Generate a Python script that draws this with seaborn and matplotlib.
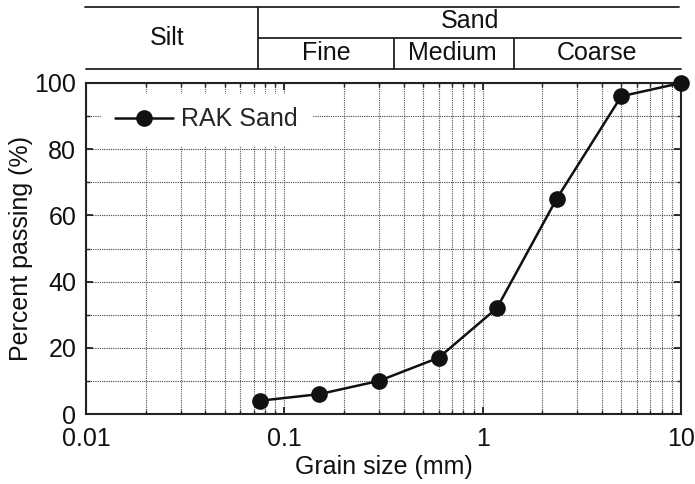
import matplotlib
matplotlib.use("Agg")
import matplotlib.pyplot as plt
from matplotlib.lines import Line2D
from matplotlib.ticker import LogLocator, FixedLocator, NullFormatter, FuncFormatter
import seaborn as sns
import pandas as pd

# Sieve analysis results
grain_size_mm = [0.075, 0.15, 0.3, 0.6, 1.18, 2.36, 5.0, 10.0]
percent_passing = [4, 6, 10, 17, 32, 65, 96, 100]
series_name = "RAK Sand"

x_tick_values = [0.01, 0.1, 1, 10]
x_tick_labels = ["0.01", "0.1", "1", "10"]
y_tick_values = [0, 20, 40, 60, 80, 100]

classes_top = ["Silt", "Sand"]
classes_sand = ["Fine", "Medium", "Coarse"]

sns.set_theme(style="ticks")
plt.rcParams["font.family"] = ["Liberation Sans", "DejaVu Sans"]

df = pd.DataFrame({"size": grain_size_mm, "passing": percent_passing,
                   "sample": series_name})

W, H = 695, 484
fig = plt.figure(figsize=(W / 100, H / 100), dpi=100)

def fx(px):
    return px / W

def fy(py):
    return 1 - py / H

L, R, T, B = 86, 681, 83, 414
ax = fig.add_axes([fx(L), fy(B), fx(R) - fx(L), fy(T) - fy(B)])

sns.lineplot(data=df, x="size", y="passing", hue="sample",
             palette=["#111111"], marker="o", markersize=12,
             markeredgewidth=0, linewidth=1.8, ax=ax, zorder=5,
             clip_on=False)

ax.set_xscale("log")
ax.set_xlim(0.01, 10)
ax.set_ylim(0, 100)

ax.xaxis.set_major_locator(FixedLocator(x_tick_values))
ax.xaxis.set_major_formatter(FuncFormatter(
    lambda v, p: x_tick_labels[x_tick_values.index(v)] if v in x_tick_values else ""))
ax.xaxis.set_minor_locator(LogLocator(base=10, subs=range(2, 10)))
ax.xaxis.set_minor_formatter(NullFormatter())
ax.yaxis.set_major_locator(FixedLocator(y_tick_values))
ax.yaxis.set_minor_locator(FixedLocator(range(10, 100, 20)))

ax.grid(True, which="both", axis="x", linestyle=(0, (1, 1)), color="#555555", linewidth=0.8)
ax.grid(True, which="both", axis="y", linestyle=(0, (1, 1)), color="#444444", linewidth=0.8)
ax.set_axisbelow(True)

ax.tick_params(which="major", direction="in", length=5, width=1.2,
               top=True, right=True, labelsize=18, colors="#111111")
ax.tick_params(axis="y", which="major", pad=7)
ax.tick_params(axis="x", which="major", pad=9)
ax.tick_params(which="minor", direction="in", length=3, width=1.0,
               top=True, right=True)
for lbl in ax.get_yticklabels():
    lbl.set_verticalalignment("center_baseline")
for s in ax.spines.values():
    s.set_linewidth(1.5)
    s.set_color("#222222")

ax.set_xlabel("Grain size (mm)", fontsize=18, labelpad=3, color="#111111")
ax.set_ylabel("Percent passing (%)", fontsize=18, labelpad=1, color="#111111")

leg = ax.legend(loc="upper left", bbox_to_anchor=(0.026, 0.968), frameon=True,
                fontsize=18, handlelength=2.3, handletextpad=0.35,
                borderpad=0.55, borderaxespad=0.0)
leg.get_frame().set_facecolor("white")
leg.get_frame().set_edgecolor("white")
leg.get_frame().set_alpha(1)
leg.get_frame().set_boxstyle("square", pad=0)
leg.set_zorder(6)

# Soil classification band above the plot
lw = 1.3
col = "#222222"
def hline(y, x0, x1):
    fig.add_artist(Line2D([fx(x0), fx(x1)], [fy(y), fy(y)], color=col, lw=lw))
def vline(x, y0, y1):
    fig.add_artist(Line2D([fx(x), fx(x)], [fy(y0), fy(y1)], color=col, lw=lw))

hline(7, 85, 679)
hline(38, 258, 681)
hline(69, 86, 681)
vline(258, 7, 69)
vline(394, 38, 69)
vline(514, 38, 69)

tkw = dict(fontsize=18, ha="center", va="center", color="#111111")
fig.text(fx(167), fy(38), classes_top[0], **tkw)
fig.text(fx(470), fy(21), classes_top[1], **tkw)
fig.text(fx(326), fy(53), classes_sand[0], **tkw)
fig.text(fx(452), fy(53), classes_sand[1], **tkw)
fig.text(fx(597), fy(53), classes_sand[2], **tkw)

fig.savefig("out.png", dpi=100)
